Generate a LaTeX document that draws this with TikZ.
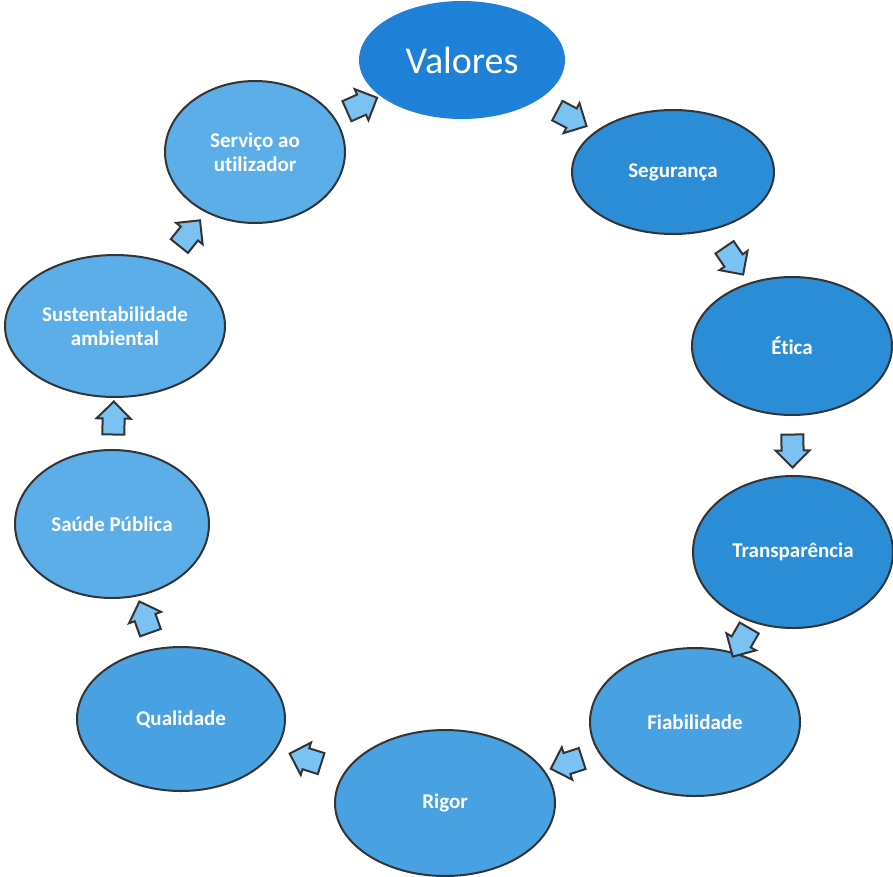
\documentclass[tikz,border=0pt]{standalone}
\usepackage{fontspec}
\setmainfont{Carlito}[Ligatures={NoCommon}]
\usepackage{tikz}
\usetikzlibrary{shapes.geometric, shapes.arrows, positioning, calc}
\definecolor{valblue}{RGB}{30,128,214}
\definecolor{darkval}{RGB}{43,141,214}
\definecolor{midval}{RGB}{72,161,225}
\definecolor{lightval}{RGB}{92,174,233}
\definecolor{arrowblue}{RGB}{122,194,241}
\definecolor{rimgray}{RGB}{50,52,56}
\tikzset{
    valnode/.style={
        ellipse, draw=rimgray, line width=2pt, inner sep=0pt,
        text=white, font=\bfseries\fontsize{21}{24}\selectfont, align=center
    },
    blockarrow/.style={
        single arrow, draw=rimgray, line width=2pt, fill=arrowblue,
        inner xsep=2pt, inner ysep=10pt, minimum height=33pt,
        single arrow head extend=6pt, sloped, allow upside down
    }
}

\begin{document}
\begin{tikzpicture}[x=1pt, y=-1pt]
    \useasboundingbox (0,0) rectangle (893,876);

    % Nó central
    \node[valnode, draw=none, fill=valblue, minimum width=206pt, minimum height=118pt,
          font=\fontsize{38}{44}\selectfont] (valores) at (462,60) {Valores};

    % Valores à volta
    \node[valnode, fill=darkval, minimum width=202pt, minimum height=124pt] (seguranca) at (673,172) {Segurança};
    \node[valnode, fill=darkval, minimum width=200pt, minimum height=138pt] (etica) at (792,346) {Ética};
    \node[valnode, fill=darkval, minimum width=200pt, minimum height=152pt] (transparencia) at (793,552) {Transparência};
    \node[valnode, fill=midval, minimum width=210pt, minimum height=148pt] (fiabilidade) at (695,722) {Fiabilidade};
    \node[valnode, fill=midval, minimum width=220pt, minimum height=146pt] (rigor) at (445,803) {Rigor};
    \node[valnode, fill=midval, minimum width=208pt, minimum height=144pt] (qualidade) at (181,719) {Qualidade};
    \node[valnode, fill=lightval, minimum width=194pt, minimum height=148pt] (saude) at (112,524) {Saúde Pública};
    \node[valnode, fill=lightval, minimum width=220pt, minimum height=142pt] (sustentabilidade) at (115,326) {Sustentabilidade\\ambiental};
    \node[valnode, fill=lightval, minimum width=180pt, minimum height=142pt] (servico) at (255,152) {Serviço ao\\utilizador};

    % Setas entre os valores
    \path (servico) -- node[blockarrow] (a1) {} (valores);
    \path (valores) -- node[blockarrow] (a2) {} (seguranca);
    \path (seguranca) -- node[blockarrow] (a3) {} (etica);
    \path (etica) -- node[blockarrow] (a4) {} (transparencia);
    \path (transparencia) -- node[blockarrow] (a5) {} (fiabilidade);
    \path (fiabilidade) -- node[blockarrow] (a6) {} (rigor);
    \path (rigor) -- node[blockarrow] (a7) {} (qualidade);
    \path (qualidade) -- node[blockarrow] (a8) {} (saude);
    \path (saude) -- node[blockarrow] (a9) {} (sustentabilidade);
    \path (sustentabilidade) -- node[blockarrow] (a10) {} (servico);

\end{tikzpicture}
\end{document}
